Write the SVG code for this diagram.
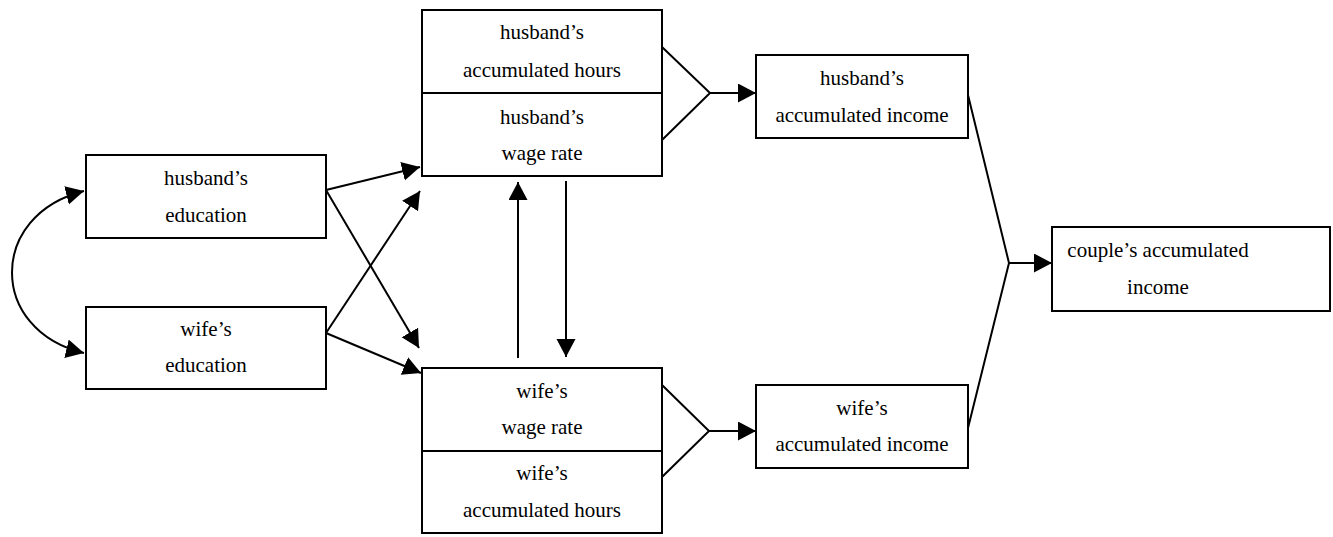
<svg xmlns="http://www.w3.org/2000/svg" width="1333" height="537" viewBox="0 0 1333 537">
<defs>
<marker id="ah" markerUnits="userSpaceOnUse" markerWidth="20" markerHeight="20" refX="18" refY="9.5" orient="auto-start-reverse">
<path d="M0,0 L18,9.5 L0,19 z" fill="#000"/>
</marker>
<style>
.box{fill:#fff;stroke:#000;stroke-width:2}
.t{font-family:"Liberation Serif","Times New Roman",Times,serif;font-size:21px;fill:#000;text-anchor:middle}
.c{fill:none;stroke:#000;stroke-width:2}
.a{marker-end:url(#ah)}
.s{marker-start:url(#ah)}
</style>
</defs>
<rect width="1333" height="537" fill="#fff"/>
<g id="connectors">
<path class="c a s" d="M84,191 C-12,215 -12,330 84,353"/>
<path class="c a" d="M326,190 L420,167"/>
<path class="c a" d="M326,190 L419,348"/>
<path class="c a" d="M326,333 L420,191"/>
<path class="c a" d="M326,333 L421,373"/>
<path class="c a" d="M518,358 L518,182"/>
<path class="c a" d="M566,181 L566,357"/>
<path class="c" d="M662,47 L710,93 L662,140"/>
<path class="c a" d="M710,93 L756,93"/>
<path class="c" d="M662,385 L709,431 L662,477"/>
<path class="c a" d="M709,431 L756,431"/>
<path class="c" d="M968,95 L1009,263 L968,428"/>
<path class="c a" d="M1009,263 L1052,263"/>
</g>
<g id="husband-education">
<rect class="box" x="86" y="155" width="240" height="83"/>
<text class="t" x="206" y="185">husband’s</text>
<text class="t" x="206" y="222">education</text>
</g>
<g id="wife-education">
<rect class="box" x="86" y="307" width="240" height="82"/>
<text class="t" x="206" y="336">wife’s</text>
<text class="t" x="206" y="372">education</text>
</g>
<g id="husband-hours">
<rect class="box" x="422" y="10" width="240" height="83"/>
<text class="t" x="542" y="39">husband’s</text>
<text class="t" x="542" y="77">accumulated hours</text>
</g>
<g id="husband-wage">
<rect class="box" x="422" y="93" width="240" height="83"/>
<text class="t" x="542" y="124">husband’s</text>
<text class="t" x="542" y="160">wage rate</text>
</g>
<g id="wife-wage">
<rect class="box" x="422" y="368" width="240" height="83"/>
<text class="t" x="542" y="398">wife’s</text>
<text class="t" x="542" y="434">wage rate</text>
</g>
<g id="wife-hours">
<rect class="box" x="422" y="451" width="240" height="82"/>
<text class="t" x="542" y="480">wife’s</text>
<text class="t" x="542" y="517">accumulated hours</text>
</g>
<g id="husband-income">
<rect class="box" x="756" y="55" width="212" height="83"/>
<text class="t" x="862" y="85">husband’s</text>
<text class="t" x="862" y="122">accumulated income</text>
</g>
<g id="wife-income">
<rect class="box" x="756" y="385" width="212" height="83"/>
<text class="t" x="862" y="415">wife’s</text>
<text class="t" x="862" y="451">accumulated income</text>
</g>
<g id="couple-income">
<rect class="box" x="1052" y="227" width="278" height="84"/>
<text class="t" x="1158" y="257">couple’s accumulated</text>
<text class="t" x="1158" y="294">income</text>
</g>
</svg>
